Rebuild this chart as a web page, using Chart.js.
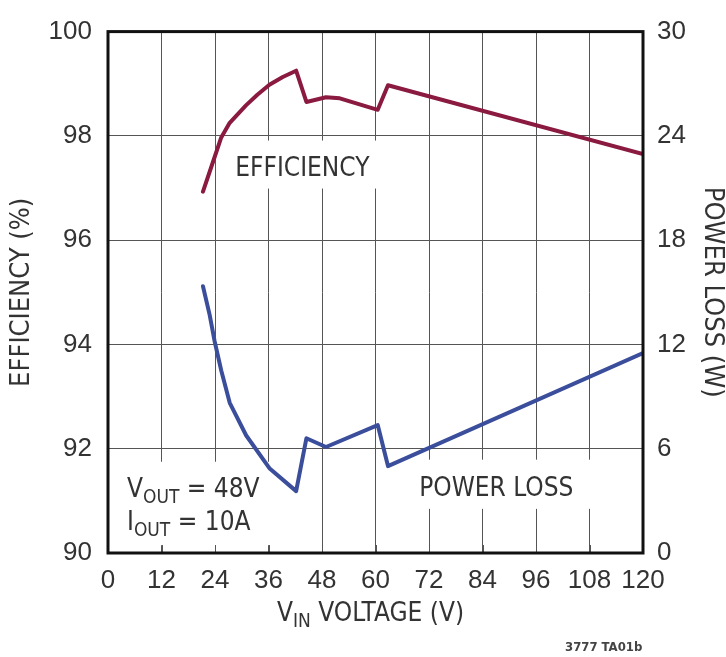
<!DOCTYPE html>
<html><head><meta charset="utf-8">
<script src="https://cdn.jsdelivr.net/npm/chart.js@4/dist/chart.umd.min.js"></script>
<style>html,body{margin:0;padding:0;background:#fff}#wrap{width:726px;height:657px;position:relative}</style>
</head><body><div id="wrap"><canvas id="c" width="726" height="657"></canvas></div>
<script>
// ---- data ----
const effVin     = [21.3, 23.9, 25.4, 27.3, 31.0, 33.5, 36.2, 39.2, 42.2, 44.5, 48.9, 52.0, 60.5, 62.8, 120];
const effValues  = [96.93, 97.59, 97.97, 98.25, 98.59, 98.79, 98.98, 99.13, 99.25, 98.65, 98.74, 98.72, 98.50, 98.97, 97.65];
const lossVin    = [21.3, 22.8, 23.9, 25.4, 27.3, 31.0, 36.2, 42.2, 44.5, 48.9, 60.5, 62.8, 120];
const lossValues = [15.35, 13.7, 12.2, 10.5, 8.64, 6.76, 4.88, 3.56, 6.6, 6.1, 7.36, 5.0, 11.5];
const xTicks    = [0, 12, 24, 36, 48, 60, 72, 84, 96, 108, 120];
const effTicks  = [90, 92, 94, 96, 98, 100];
const lossTicks = [0, 6, 12, 18, 24, 30];

const effColor = '#8a1a40';
const lossColor = '#3b4e9b';
const textColor = '#333333';
const gridColor = '#555555';
const regFont = '"Liberation Sans", Arial, sans-serif';
const narrowFont = '"Liberation Sans Narrow", "DejaVu Sans Condensed", "Liberation Sans", sans-serif';

const annot = {
  effLabel: {text: 'EFFICIENCY', x: 43.6, y: 97.36},
  lossLabel: {text: 'POWER LOSS', x: 87.1, y: 3.67},
  effBox: {x0: 26.1, x1: 62.0, y0: 97.91, y1: 96.99},
  lossBox: {x0: 66.5, x1: 110.3, y0: 5.37, y1: 2.54},
  condBox: {x0: 0, x1: 39.5, y0: 91.75, y1: 90.15}
};

const decor = {
  id: 'decor',
  beforeDatasetsDraw(chart) {
    const {ctx, chartArea: ca, scales} = chart;
    const xs = scales.x, ys = scales.y, y1 = scales.y1;
    ctx.save();
    ctx.fillStyle = '#fff';
    const rect = (b, ysc) => {
      const l = Math.max(xs.getPixelForValue(b.x0), ca.left + 1), r = xs.getPixelForValue(b.x1);
      const t = ysc.getPixelForValue(b.y0), bt = ysc.getPixelForValue(b.y1);
      ctx.fillRect(l, t, r - l, bt - t);
    };
    rect(annot.effBox, ys);
    rect(annot.lossBox, y1);
    rect(annot.condBox, ys);
    // short inward ticks at the bottom edge
    ctx.strokeStyle = gridColor; ctx.lineWidth = 1;
    xTicks.forEach(v => {
      const px = Math.round(xs.getPixelForValue(v)) + 0.5;
      ctx.beginPath(); ctx.moveTo(px, ca.bottom); ctx.lineTo(px, ca.bottom - 8); ctx.stroke();
    });
    ctx.restore();
  },
  afterDraw(chart) {
    const {ctx, chartArea: ca, scales} = chart;
    const xs = scales.x, ys = scales.y, y1 = scales.y1;
    ctx.save();
    // frame
    ctx.strokeStyle = '#111'; ctx.lineWidth = 3;
    ctx.strokeRect(ca.left, ca.top, ca.right - ca.left, ca.bottom - ca.top);
    ctx.fillStyle = textColor;
    ctx.textAlign = 'center'; ctx.textBaseline = 'middle';
    ctx.font = '26px ' + narrowFont;
    ctx.fillText(annot.effLabel.text, xs.getPixelForValue(annot.effLabel.x), ys.getPixelForValue(annot.effLabel.y));
    ctx.fillText(annot.lossLabel.text, xs.getPixelForValue(annot.lossLabel.x), y1.getPixelForValue(annot.lossLabel.y));
    // subscripted runs
    const big = '26px ' + narrowFont, small = '19px ' + narrowFont;
    const runs = (parts, x, baseline, align) => {
      ctx.textBaseline = 'alphabetic'; ctx.textAlign = 'left';
      let w = 0;
      parts.forEach(p => { ctx.font = p.sub ? small : big; w += ctx.measureText(p.t).width; });
      let cx = align === 'center' ? x - w / 2 : x;
      parts.forEach(p => {
        ctx.font = p.sub ? small : big;
        ctx.fillText(p.t, cx, baseline + (p.sub ? 6 : 0));
        cx += ctx.measureText(p.t).width;
      });
    };
    const lx = ca.left + 19;
    runs([{t: 'V'}, {t: 'OUT', sub: true}, {t: ' = 48V'}], lx, ca.bottom - 56, 'left');
    runs([{t: 'I'}, {t: 'OUT', sub: true}, {t: ' = 10A'}], lx, ca.bottom - 23, 'left');
    runs([{t: 'V'}, {t: 'IN', sub: true}, {t: ' VOLTAGE (V)'}], (ca.left + ca.right) / 2 - 5, ca.bottom + 68, 'center');
    ctx.font = 'bold 13px ' + narrowFont;
    ctx.fillStyle = '#444';
    ctx.fillText('3777 TA01b', ca.right - 78, ca.bottom + 98);
    ctx.restore();
  }
};

new Chart(document.getElementById('c'), {
  type: 'line',
  data: {
    datasets: [
      {label: 'EFFICIENCY', yAxisID: 'y', data: effVin.map((v, i) => ({x: v, y: effValues[i]})),
       borderColor: effColor, borderWidth: 4, pointRadius: 0, tension: 0, borderJoinStyle: 'round', borderCapStyle: 'round'},
      {label: 'POWER LOSS', yAxisID: 'y1', data: lossVin.map((v, i) => ({x: v, y: lossValues[i]})),
       borderColor: lossColor, borderWidth: 4, pointRadius: 0, tension: 0, borderJoinStyle: 'round', borderCapStyle: 'round'}
    ]
  },
  options: {
    responsive: false, animation: false, devicePixelRatio: 1,
    layout: {padding: {top: 22, left: 0, right: 0, bottom: 0}},
    plugins: {legend: {display: false}, tooltip: {enabled: false}},
    scales: {
      x: {
        type: 'linear', min: 0, max: 120,
        afterBuildTicks: s => { s.ticks = xTicks.map(v => ({value: v})); },
        grid: {color: gridColor, lineWidth: 1, drawTicks: false},
        border: {display: false},
        ticks: {color: textColor, font: {family: regFont, size: 26}, padding: 12, maxRotation: 0, autoSkip: false},
        afterFit: s => { s.height = 104; }
      },
      y: {
        type: 'linear', position: 'left', min: 90, max: 100,
        afterBuildTicks: s => { s.ticks = effTicks.map(v => ({value: v})); },
        grid: {color: gridColor, lineWidth: 1, drawTicks: false},
        border: {display: false},
        ticks: {color: textColor, font: {family: regFont, size: 26}, padding: 16},
        title: {display: true, text: 'EFFICIENCY (%)', color: textColor, font: {family: narrowFont, size: 27, lineHeight: 1}, padding: {top: 8, bottom: 0}},
        afterFit: s => { s.width = 108; }
      },
      y1: {
        type: 'linear', position: 'right', min: 0, max: 30,
        afterBuildTicks: s => { s.ticks = lossTicks.map(v => ({value: v})); },
        grid: {display: false, drawTicks: false},
        border: {display: false},
        ticks: {color: textColor, font: {family: regFont, size: 26}, padding: 14},
        title: {display: true, text: 'POWER LOSS (W)', color: textColor, font: {family: narrowFont, size: 27, lineHeight: 1}, padding: {top: 0, bottom: 0}},
        afterFit: s => { s.width = 83; }
      }
    }
  },
  plugins: [decor]
});
</script>
</body></html>
